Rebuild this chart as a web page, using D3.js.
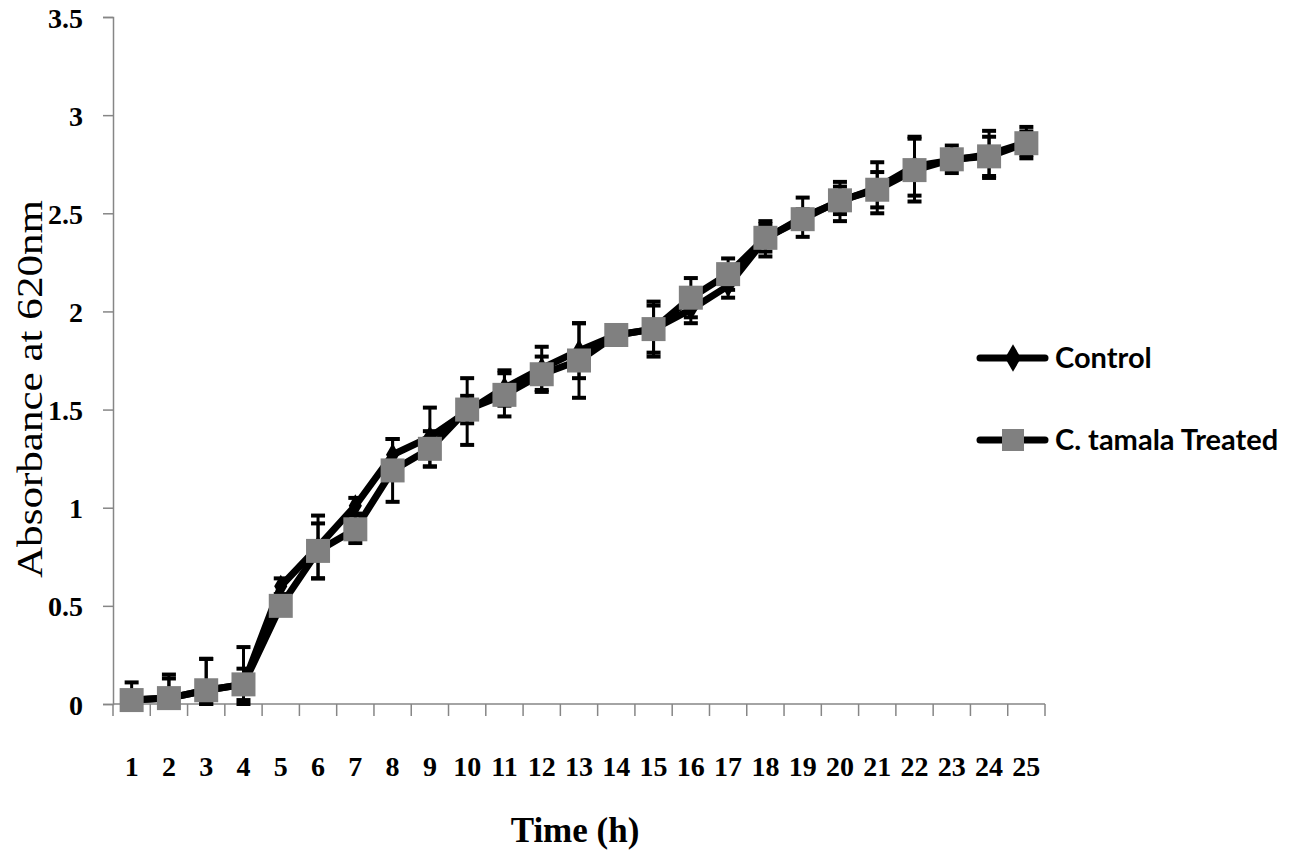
<!DOCTYPE html>
<html>
<head>
<meta charset="utf-8">
<script src="https://cdn.jsdelivr.net/npm/d3@7"></script>
<style>
  body { margin: 0; background: #fff; }
</style>
</head>
<body>
<svg id="chart"></svg>
<script>
var width = 1293,
    height = 866;

// hours on the x axis
var hours = ["1","2","3","4","5","6","7","8","9","10","11","12","13","14","15","16","17","18","19","20","21","22","23","24","25"];

// absorbance
var control = [0.02, 0.03, 0.07, 0.10, 0.60, 0.80, 1.01, 1.27, 1.36, 1.49, 1.61, 1.71, 1.80, 1.88, 1.91, 2.01, 2.13, 2.37, 2.48, 2.56, 2.63, 2.74, 2.77, 2.80, 2.86];
var controlErr = [0.09, 0.12, 0.16, 0.19, 0.04, 0.16, 0.04, 0.08, 0.15, 0.17, 0.09, 0.11, 0.14, 0.05, 0.12, 0.07, 0.06, 0.09, 0.10, 0.10, 0.13, 0.15, 0.02, 0.12, 0.08];
var treated = [0.02, 0.03, 0.07, 0.10, 0.50, 0.78, 0.89, 1.19, 1.30, 1.50, 1.575, 1.68, 1.75, 1.88, 1.91, 2.07, 2.19, 2.375, 2.47, 2.566, 2.62, 2.72, 2.775, 2.79, 2.857];
var treatedErr = [0.02, 0.10, 0.16, 0.08, 0.03, 0.14, 0.07, 0.16, 0.09, 0.07, 0.11, 0.09, 0.19, 0.04, 0.14, 0.10, 0.08, 0.07, 0.05, 0.07, 0.09, 0.16, 0.07, 0.10, 0.06];

var yTicks = [0, 0.5, 1, 1.5, 2, 2.5, 3, 3.5];
var seriesNames = ["Control", "C. tamala Treated"];

var svg = d3.select("#chart")
    .attr("width", width)
    .attr("height", height);

var x = d3.scaleBand()
    .domain(hours)
    .range([113, 1045])
    .padding(0);

var y = d3.scaleLinear()
    .domain([0, 3.5])
    .range([704, 17]);

var axisColor = "#868686";

// y axis
var yAxis = svg.append("g")
    .attr("transform", "translate(113,0)")
    .call(d3.axisLeft(y).tickValues(yTicks).tickSize(10).tickPadding(20)
      .tickFormat(function(d){ return d; }));
yAxis.attr("font-size", null).attr("font-family", null);
yAxis.select(".domain").attr("stroke", axisColor).attr("stroke-width", 1.5);
yAxis.selectAll(".tick line").attr("stroke", axisColor).attr("stroke-width", 1.5);
yAxis.selectAll(".tick text")
    .attr("fill", "#000")
    .attr("dy", "0.36em")
    .style("font-family", "'Liberation Serif', serif")
    .style("font-weight", "bold")
    .style("font-size", "28px");

// x axis line and ticks between the categories
svg.append("line")
    .attr("x1", x.range()[0]).attr("x2", x.range()[1])
    .attr("y1", y(0)).attr("y2", y(0))
    .attr("stroke", axisColor).attr("stroke-width", 1.5);

svg.selectAll(".xtick")
  .data(hours.concat(["end"]))
  .join("line")
    .attr("class", "xtick")
    .attr("x1", function(d){ return d === "end" ? x.range()[1] : x(d); })
    .attr("x2", function(d){ return d === "end" ? x.range()[1] : x(d); })
    .attr("y1", y(0))
    .attr("y2", y(0) + 12)
    .attr("stroke", axisColor).attr("stroke-width", 1.5);

svg.selectAll(".xlabel")
  .data(hours)
  .join("text")
    .attr("class", "xlabel")
    .attr("x", function(d){ return x(d) + x.bandwidth() / 2; })
    .attr("y", 776)
    .attr("text-anchor", "middle")
    .style("font-family", "'Liberation Serif', serif")
    .style("font-weight", "bold")
    .style("font-size", "28px")
    .text(function(d){ return d; });

// titles
svg.append("text")
    .attr("transform", "translate(42," + 389 + ") rotate(-90)")
    .attr("text-anchor", "middle")
    .attr("textLength", 378)
    .attr("lengthAdjust", "spacingAndGlyphs")
    .style("font-family", "'Liberation Serif', serif")
    .style("font-size", "35px")
    .text("Absorbance at 620nm");

svg.append("text")
    .attr("x", 575)
    .attr("y", 842)
    .attr("text-anchor", "middle")
    .style("font-family", "'Liberation Serif', serif")
    .style("font-weight", "bold")
    .style("font-size", "35px")
    .text("Time (h)");

var cx = function(i){ return x(hours[i]) + x.bandwidth() / 2; };

var line = d3.line()
    .x(function(d, i){ return cx(i); })
    .y(function(d){ return y(d); });

// lines
[control, treated].forEach(function(vals){
  svg.append("path")
    .datum(vals)
    .attr("d", line)
    .attr("fill", "none")
    .attr("stroke", "#000")
    .attr("stroke-width", 7)
    .attr("stroke-linejoin", "round");
});

// error bars
function errorBars(vals, errs) {
  var g = svg.append("g");
  vals.forEach(function(v, i){
    var lo = y(Math.max(0, v - errs[i])),
        hi = y(v + errs[i]);
    g.append("line")
      .attr("x1", cx(i)).attr("x2", cx(i))
      .attr("y1", lo).attr("y2", hi)
      .attr("stroke", "#000").attr("stroke-width", 3);
    [lo, hi].forEach(function(yy){
      g.append("line")
        .attr("x1", cx(i) - 7).attr("x2", cx(i) + 7)
        .attr("y1", yy).attr("y2", yy)
        .attr("stroke", "#000").attr("stroke-width", 4);
    });
  });
}
errorBars(control, controlErr);
errorBars(treated, treatedErr);

// markers
var diamond = d3.symbol().type(d3.symbolDiamond).size(150);
svg.selectAll(".ctrl")
  .data(control)
  .join("path")
    .attr("class", "ctrl")
    .attr("d", diamond)
    .attr("transform", function(d, i){ return "translate(" + cx(i) + "," + y(d) + ")"; })
    .attr("fill", "#000");

var sq = 24;
svg.selectAll(".trt")
  .data(treated)
  .join("rect")
    .attr("class", "trt")
    .attr("x", function(d, i){ return cx(i) - sq / 2; })
    .attr("y", function(d){ return y(d) - sq / 2; })
    .attr("width", sq)
    .attr("height", sq)
    .attr("fill", "#808080");

// legend
var legend = svg.append("g");
seriesNames.forEach(function(name, i){
  var ly = 358 + i * 82;
  legend.append("line")
    .attr("x1", 980).attr("x2", 1045)
    .attr("y1", ly).attr("y2", ly)
    .attr("stroke", "#000").attr("stroke-width", 7)
    .attr("stroke-linecap", "round");
  if (i === 0) {
    legend.append("path")
      .attr("d", d3.symbol().type(d3.symbolDiamond).size(220))
      .attr("transform", "translate(1013," + ly + ")")
      .attr("fill", "#000");
  } else {
    legend.append("rect")
      .attr("x", 1013 - 11).attr("y", ly - 11)
      .attr("width", 22).attr("height", 22)
      .attr("fill", "#808080");
  }
  legend.append("text")
    .attr("x", 1055)
    .attr("y", ly + 10)
    .style("font-family", "Lato, sans-serif")
    .style("font-weight", "bold")
    .style("font-size", "29px")
    .text(name);
});
</script>
</body>
</html>
